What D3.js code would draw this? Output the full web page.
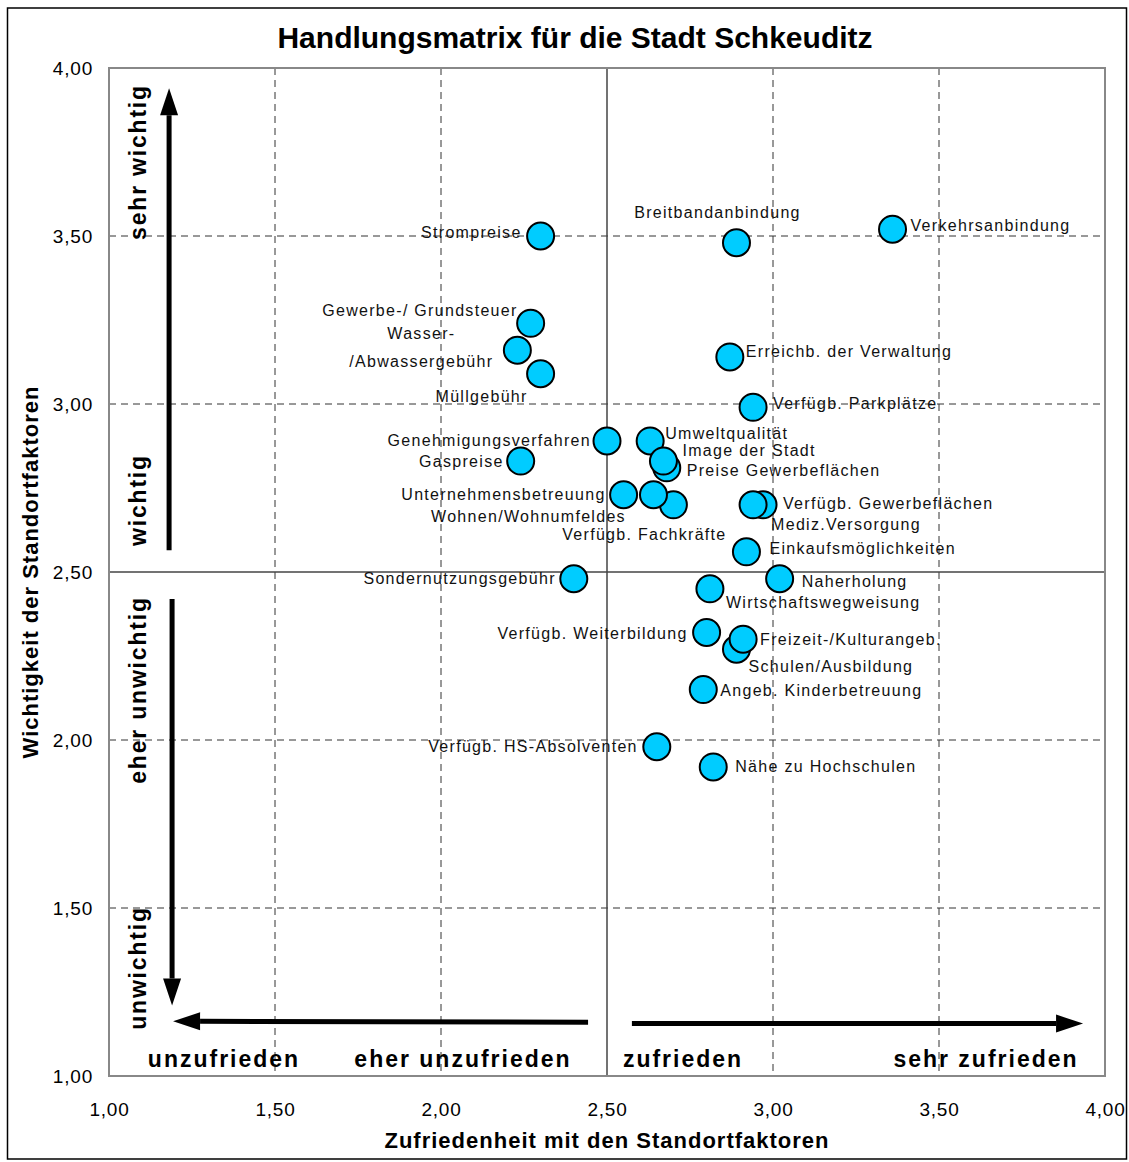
<!DOCTYPE html>
<html><head><meta charset="utf-8">
<script src="https://cdn.jsdelivr.net/npm/d3@7"></script>
<style>
body{margin:0;background:#fff;}
svg text{font-family:"Liberation Sans",Arial,sans-serif;}
</style></head>
<body><svg id="chart" width="1129" height="1162"></svg>
<script>
// ---- data ----
const factors = ["Verkehrsanbindung","Breitbandanbindung","Strompreise","Gewerbe-/ Grundsteuer","Wasser-/Abwassergebühr","Müllgebühr","Erreichb. der Verwaltung","Verfügb. Parkplätze","Genehmigungsverfahren","Umweltqualität","Preise Gewerbeflächen","Image der Stadt","Gaspreise","Unternehmensbetreuung","Verfügb. Fachkräfte","Wohnen/Wohnumfeldes","Verfügb. Gewerbeflächen","Mediz.Versorgung","Einkaufsmöglichkeiten","Sondernutzungsgebühr","Naherholung","Wirtschaftswegweisung","Verfügb. Weiterbildung","Schulen/Ausbildung","Freizeit-/Kulturangeb.","Angeb. Kinderbetreuung","Verfügb. HS-Absolventen","Nähe zu Hochschulen"];
const satisfaction = [3.36,2.89,2.30,2.27,2.23,2.30,2.87,2.94,2.50,2.63,2.68,2.67,2.24,2.55,2.70,2.64,2.97,2.94,2.92,2.40,3.02,2.81,2.80,2.89,2.91,2.79,2.65,2.82];
const importance   = [3.52,3.48,3.50,3.24,3.16,3.09,3.14,2.99,2.89,2.89,2.81,2.83,2.83,2.73,2.70,2.73,2.70,2.70,2.56,2.48,2.48,2.45,2.32,2.27,2.30,2.15,1.98,1.92];
const tickValues = [1.0,1.5,2.0,2.5,3.0,3.5,4.0];
const tickLabels = ["1,00","1,50","2,00","2,50","3,00","3,50","4,00"];
const title = "Handlungsmatrix für die Stadt Schkeuditz";
const xTitle = "Zufriedenheit mit den Standortfaktoren";
const yTitle = "Wichtigkeit der Standortfaktoren";
const xZoneLabels = ["unzufrieden","eher unzufrieden","zufrieden","sehr zufrieden"];
const yZoneLabels = ["sehr wichtig","wichtig","eher unwichtig","unwichtig"];

// ---- layout (label placement: anchor, dx, dy) ----
const labelPlace = {
 "Verkehrsanbindung":["start",18,-4],
 "Breitbandanbindung":["middle",-19,-30],
 "Strompreise":["end",-19,-4],
 "Gewerbe-/ Grundsteuer":["end",-13,-13],
 "Wasser-/Abwassergebühr":["middle",-96,0],
 "Müllgebühr":["middle",-59,23],
 "Erreichb. der Verwaltung":["start",16,-6],
 "Verfügb. Parkplätze":["start",20,-4],
 "Genehmigungsverfahren":["end",-16,-1],
 "Umweltqualität":["start",15,-8],
 "Image der Stadt":["start",19,-11],
 "Preise Gewerbeflächen":["start",20,3],
 "Gaspreise":["end",-17,0],
 "Unternehmensbetreuung":["end",-18,0],
 "Wohnen/Wohnumfeldes":["middle",-125,22],
 "Verfügb. Fachkräfte":["middle",-29,30],
 "Verfügb. Gewerbeflächen":["start",20,-1],
 "Mediz.Versorgung":["start",18,20],
 "Einkaufsmöglichkeiten":["start",23,-3],
 "Sondernutzungsgebühr":["end",-18,0],
 "Naherholung":["start",22,3],
 "Wirtschaftswegweisung":["start",16,14],
 "Verfügb. Weiterbildung":["end",-19,1],
 "Freizeit-/Kulturangeb.":["start",17,0],
 "Schulen/Ausbildung":["start",12,17],
 "Angeb. Kinderbetreuung":["start",17,1],
 "Verfügb. HS-Absolventen":["end",-19,0],
 "Nähe zu Hochschulen":["start",22,0]
};

const svg = d3.select("#chart");
const L=109,R=1105,T=68,B=1076;
const x = d3.scaleLinear().domain([1,4]).range([L,R]);
const y = d3.scaleLinear().domain([1,4]).range([B,T]);

// outer frame
svg.append("rect").attr("x",7.5).attr("y",8).attr("width",1119).attr("height",1151)
  .attr("fill","#fff").attr("stroke","#000").attr("stroke-width",1.5);

// title
svg.append("text").attr("x",575).attr("y",48).attr("text-anchor","middle")
  .attr("font-size",30).attr("font-weight","bold").attr("fill","#000").text(title);

// plot bg
svg.append("rect").attr("x",L).attr("y",T).attr("width",R-L).attr("height",B-T).attr("fill","#fff");

// grid
const g = svg.append("g");
tickValues.filter(v=>v>1&&v<4&&v!==2.5).forEach(v=>{
  g.append("line").attr("x1",x(v)).attr("x2",x(v)).attr("y1",T).attr("y2",B)
   .attr("stroke","#333").attr("stroke-width",1).attr("stroke-dasharray","7,5");
  g.append("line").attr("y1",y(v)).attr("y2",y(v)).attr("x1",L).attr("x2",R)
   .attr("stroke","#333").attr("stroke-width",1).attr("stroke-dasharray","7,5");
});
g.append("line").attr("x1",x(2.5)).attr("x2",x(2.5)).attr("y1",T).attr("y2",B).attr("stroke","#444").attr("stroke-width",1.5);
g.append("line").attr("y1",y(2.5)).attr("y2",y(2.5)).attr("x1",L).attr("x2",R).attr("stroke","#444").attr("stroke-width",1.5);

// plot border
svg.append("rect").attr("x",L).attr("y",T).attr("width",R-L).attr("height",B-T)
  .attr("fill","none").attr("stroke","#888").attr("stroke-width",2);

// axes
const xAxis = d3.axisBottom(x).tickValues(tickValues).tickFormat((d,i)=>tickLabels[i]).tickSize(0).tickPadding(0);
const xa = svg.append("g").attr("transform",`translate(0,${B})`).call(xAxis);
xa.select(".domain").remove();
xa.selectAll("text").attr("font-size",19).attr("letter-spacing",0.8).attr("fill","#000").attr("dy",0).attr("y",40);
const yAxis = d3.axisLeft(y).tickValues(tickValues).tickFormat((d,i)=>tickLabels[i]).tickSize(0).tickPadding(0);
const ya = svg.append("g").attr("transform",`translate(${L},0)`).call(yAxis);
ya.select(".domain").remove();
ya.selectAll("text").attr("font-size",19).attr("letter-spacing",0.8).attr("fill","#000").attr("x",-16).attr("dy","0.35em");

// axis titles
svg.append("text").attr("x",607).attr("y",1148).attr("text-anchor","middle")
  .attr("font-size",22).attr("font-weight","bold").attr("letter-spacing",1).text(xTitle);
svg.append("text").attr("transform","translate(38,572) rotate(-90)").attr("text-anchor","middle")
  .attr("font-size",22).attr("font-weight","bold").attr("letter-spacing",1).text(yTitle);

// arrows
function arrow(x1,y1,x2,y2){
  const X1=x(x1),Y1=y(y1),X2=x(x2),Y2=y(y2);
  const ang=Math.atan2(Y2-Y1,X2-X1), hl=27, hw=9;
  const bx=X2-hl*Math.cos(ang), by=Y2-hl*Math.sin(ang);
  svg.append("line").attr("x1",X1).attr("y1",Y1).attr("x2",bx).attr("y2",by)
    .attr("stroke","#000").attr("stroke-width",5);
  const px=-Math.sin(ang)*hw, py=Math.cos(ang)*hw;
  svg.append("path").attr("d",`M${X2},${Y2}L${bx+px},${by+py}L${bx-px},${by-py}Z`).attr("fill","#000");
}
arrow(1.181,2.565,1.181,3.94);
arrow(1.19,2.42,1.19,1.21);
arrow(2.443,1.16,1.193,1.163);
arrow(2.575,1.156,3.934,1.156);

// zone labels
const xz=[224,463,683,986];
xZoneLabels.forEach((t,i)=>svg.append("text").attr("x",xz[i]).attr("y",1067)
  .attr("text-anchor","middle").attr("font-size",23).attr("font-weight","bold")
  .attr("letter-spacing",2).text(t));
const yz=[162,500,690,968];
yZoneLabels.forEach((t,i)=>svg.append("text").attr("transform",`translate(146,${yz[i]}) rotate(-90)`)
  .attr("text-anchor","middle").attr("font-size",23).attr("font-weight","bold")
  .attr("letter-spacing",1.8).text(t));

// points
const data = factors.map((f,i)=>({name:f,sx:satisfaction[i],iy:importance[i]}));
svg.append("g").selectAll("circle").data(data).join("circle")
  .attr("cx",d=>x(d.sx)).attr("cy",d=>y(d.iy)).attr("r",13.5)
  .attr("fill","#00CCFF").attr("stroke","#000").attr("stroke-width",2);

// labels
const lg = svg.append("g");
data.forEach(d=>{
  const p=labelPlace[d.name];
  const t=lg.append("text").attr("x",x(d.sx)+p[1]).attr("y",y(d.iy)+p[2])
    .attr("text-anchor",p[0]).attr("font-size",16).attr("letter-spacing",1.3).attr("fill","#111")
    .attr("dy","0.35em");
  if(d.name==="Wasser-/Abwassergebühr"){
    t.append("tspan").attr("x",x(d.sx)+p[1]).attr("dy","-0.7em").text("Wasser-");
    t.append("tspan").attr("x",x(d.sx)+p[1]).attr("dy","1.75em").text("/Abwassergebühr");
  } else t.text(d.name);
});
</script></body></html>
